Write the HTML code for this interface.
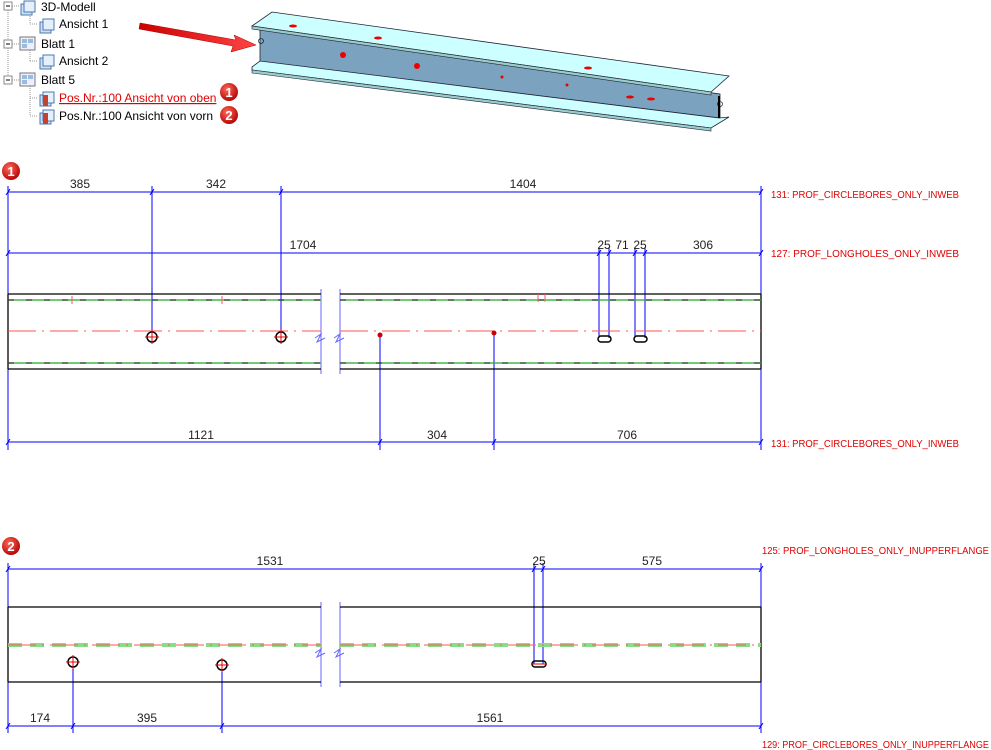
<!DOCTYPE html>
<html><head><meta charset="utf-8"><style>
html,body{margin:0;padding:0;background:#fff;width:991px;height:750px;overflow:hidden}
svg{display:block}
.t{font-family:"Liberation Sans",sans-serif;font-size:12px;fill:#000}
.d{font-family:"Liberation Sans",sans-serif;font-size:12px;fill:#222}
.r{font-family:"Liberation Sans",sans-serif;font-size:10px;fill:#e00000}
</style></head><body>
<svg width="991" height="750" viewBox="0 0 991 750" xmlns="http://www.w3.org/2000/svg">
<defs>
<g id="ic"><rect x="0" y="0" width="11" height="11" fill="#cfe0f4" stroke="#4a78b0"/><rect x="3" y="-3" width="11" height="11" fill="#e6f0fb" stroke="#4a78b0"/></g>
<g id="ic2"><rect x="0" y="0" width="11" height="11" fill="#cfe0f4" stroke="#4a78b0"/><rect x="3" y="-3" width="11" height="11" fill="#e6f0fb" stroke="#4a78b0"/><rect x="3" y="0" width="5" height="11" fill="#c84030"/></g>
<g id="sh"><rect x="0" y="0" width="15" height="13" fill="#eef" stroke="#777"/><rect x="2" y="2" width="5" height="4" fill="#9bd" /><rect x="8" y="2" width="5" height="4" fill="#9bd"/><rect x="2" y="7" width="5" height="4" fill="#9bd"/></g>
<g id="bx"><rect x="0" y="0" width="8" height="8" fill="#fff" stroke="#888"/><line x1="2" y1="4" x2="6" y2="4" stroke="#000"/></g>
<radialGradient id="rg" cx="0.4" cy="0.35" r="0.7"><stop offset="0" stop-color="#ff6a5a"/><stop offset="1" stop-color="#b00000"/></radialGradient>
<linearGradient id="ag" x1="0" y1="0" x2="1" y2="0"><stop offset="0" stop-color="#c00"/><stop offset="1" stop-color="#f44"/></linearGradient>
</defs>

<!-- tree -->
<g stroke="#999" stroke-dasharray="1,1">
<line x1="8" y1="10" x2="8" y2="80"/><line x1="30" y1="14" x2="30" y2="24"/><line x1="30" y1="24" x2="38" y2="24"/>
<line x1="12" y1="6" x2="20" y2="6"/><line x1="12" y1="44" x2="20" y2="44"/><line x1="12" y1="80" x2="20" y2="80"/>
<line x1="30" y1="50" x2="30" y2="61"/><line x1="30" y1="61" x2="38" y2="61"/>
<line x1="30" y1="86" x2="30" y2="116"/><line x1="30" y1="98" x2="38" y2="98"/><line x1="30" y1="116" x2="38" y2="116"/>
</g>
<use href="#bx" x="4" y="2"/><use href="#bx" x="4" y="40"/><use href="#bx" x="4" y="76"/>
<use href="#ic" x="21" y="4"/><text class="t" x="41" y="11">3D-Modell</text>
<use href="#ic" x="40" y="22"/><text class="t" x="59" y="28">Ansicht 1</text>
<use href="#sh" x="20" y="37"/><text class="t" x="41" y="48">Blatt 1</text>
<use href="#ic" x="40" y="58"/><text class="t" x="59" y="65">Ansicht 2</text>
<use href="#sh" x="20" y="73"/><text class="t" x="41" y="84">Blatt 5</text>
<use href="#ic2" x="40" y="95"/><text class="t" x="59" y="102" style="fill:#e00000;text-decoration:underline">Pos.Nr.:100 Ansicht von oben</text>
<use href="#ic2" x="40" y="113"/><text class="t" x="59" y="120">Pos.Nr.:100 Ansicht von vorn</text>
<circle cx="229" cy="92" r="9" fill="url(#rg)"/><text x="229" y="97" text-anchor="middle" style="font:bold 13px 'Liberation Sans',sans-serif;fill:#fff">1</text>
<circle cx="229" cy="115" r="9" fill="url(#rg)"/><text x="229" y="120" text-anchor="middle" style="font:bold 13px 'Liberation Sans',sans-serif;fill:#fff">2</text>
<!-- arrow -->
<polygon points="140,23 236,40 234,35 256,45 231,52 233,46 139,29" fill="url(#ag)" stroke="#a00" stroke-width="0.5"/>

<!-- 3D beam -->
<polygon points="260,29 720,94 720,118 260,62" fill="#7ba3bf" stroke="#223" stroke-width="0.8"/>
<polygon points="252,26 272,12 729,76 711,92" fill="#ccffff" stroke="#223" stroke-width="0.8"/>
<polygon points="252,26 711,92 711,95 252,29" fill="#9cc" stroke="#223" stroke-width="0.6"/>
<polygon points="252,67 260,61 719,118 729,117 711,128 252,70" fill="#ccffff" stroke="#223" stroke-width="0.8"/>
<polygon points="252,70 711,128 711,131 252,73" fill="#9cc" stroke="#223" stroke-width="0.6"/>
<line x1="719" y1="96" x2="719" y2="118" stroke="#000" stroke-width="2"/>
<g fill="#e00"><circle cx="343" cy="55" r="3"/><circle cx="417" cy="66" r="3"/><ellipse cx="293" cy="26" rx="4" ry="1.5"/><ellipse cx="378" cy="38" rx="4" ry="1.5"/><ellipse cx="588" cy="68" rx="4" ry="1.5"/><ellipse cx="630" cy="97" rx="4" ry="1.5"/><ellipse cx="651" cy="99" rx="4" ry="1.5"/><circle cx="502" cy="77" r="1.5"/><circle cx="567" cy="85" r="1.5"/></g>
<circle cx="261" cy="41" r="2.5" fill="none" stroke="#000" stroke-width="0.6"/>
<circle cx="720" cy="104" r="2.5" fill="none" stroke="#000" stroke-width="0.6"/>

<!-- Drawing 1 -->
<circle cx="11" cy="171" r="9" fill="url(#rg)"/><text x="11" y="176" text-anchor="middle" style="font:bold 13px 'Liberation Sans',sans-serif;fill:#fff">1</text>
<g stroke="#00f" stroke-width="1" fill="none">
<line x1="8" y1="186" x2="8" y2="450"/><line x1="761" y1="186" x2="761" y2="450"/>
<line x1="152" y1="186" x2="152" y2="333"/><line x1="281" y1="186" x2="281" y2="333"/>
<line x1="8" y1="192" x2="761" y2="192"/><line x1="8" y1="253" x2="761" y2="253"/>
<line x1="599" y1="247" x2="599" y2="338"/><line x1="609" y1="247" x2="609" y2="338"/>
<line x1="635" y1="247" x2="635" y2="338"/><line x1="645" y1="247" x2="645" y2="338"/>
<line x1="380" y1="335" x2="380" y2="450"/><line x1="494" y1="333" x2="494" y2="450"/>
<line x1="8" y1="442" x2="761" y2="442"/>
<path d="M6,195l4,-6M150,195l4,-6M279,195l4,-6M759,195l4,-6M6,256l4,-6M597,256l4,-6M607,256l4,-6M633,256l4,-6M643,256l4,-6M759,256l4,-6M6,445l4,-6M378,445l4,-6M492,445l4,-6M759,445l4,-6"/>
<line x1="321" y1="289" x2="321" y2="374" stroke="#66f"/><line x1="340" y1="289" x2="340" y2="374" stroke="#66f"/>
<path d="M315,338l6,-4l-4,8l8,-4M334,338l6,-4l-4,8l8,-4" stroke="#66f"/>
</g>
<g stroke="#000" stroke-width="1.3">
<line x1="8" y1="294" x2="321" y2="294"/><line x1="340" y1="294" x2="761" y2="294"/>
<line x1="8" y1="369" x2="321" y2="369"/><line x1="340" y1="369" x2="761" y2="369"/>
<line x1="8" y1="294" x2="8" y2="369"/><line x1="761" y1="294" x2="761" y2="369"/>
</g>
<g stroke-width="1.2">
<line x1="8" y1="300" x2="321" y2="300" stroke="#2a2"/><line x1="340" y1="300" x2="761" y2="300" stroke="#2a2"/>
<line x1="8" y1="300" x2="321" y2="300" stroke="#333" stroke-dasharray="6,12"/><line x1="340" y1="300" x2="761" y2="300" stroke="#333" stroke-dasharray="6,12"/>
<line x1="8" y1="363" x2="321" y2="363" stroke="#2a2"/><line x1="340" y1="363" x2="761" y2="363" stroke="#2a2"/>
<line x1="8" y1="363" x2="321" y2="363" stroke="#333" stroke-dasharray="6,12"/><line x1="340" y1="363" x2="761" y2="363" stroke="#333" stroke-dasharray="6,12"/>
</g>
<g stroke="#f55" stroke-width="1"><line x1="8" y1="331" x2="321" y2="331" stroke-dasharray="28,6,2,6"/><line x1="340" y1="331" x2="761" y2="331" stroke-dasharray="28,6,2,6"/>
<path d="M72,296v8M222,296v8M538,294v8M545,294v8"/></g>
<g fill="none" stroke="#000" stroke-width="1.5"><circle cx="152" cy="337" r="5"/><circle cx="281" cy="337" r="5"/>
<rect x="598" y="336" width="13" height="6" rx="3"/><rect x="634" y="336" width="13" height="6" rx="3"/></g>
<g stroke="#e00"><path d="M145,337h14M152,330v14M274,337h14M281,330v14"/></g>
<circle cx="380" cy="335" r="2.5" fill="#c00"/><circle cx="494" cy="333" r="2.5" fill="#c00"/>
<g class="d" text-anchor="middle">
<text class="d" x="80" y="188">385</text><text class="d" x="216" y="188">342</text><text class="d" x="523" y="188">1404</text>
<text class="d" x="303" y="249">1704</text><text class="d" x="604" y="249">25</text><text class="d" x="622" y="249">71</text><text class="d" x="640" y="249">25</text><text class="d" x="703" y="249">306</text>
<text class="d" x="201" y="439">1121</text><text class="d" x="437" y="439">304</text><text class="d" x="627" y="439">706</text>
</g>
<text class="r" x="771" y="198" textLength="188" lengthAdjust="spacingAndGlyphs">131: PROF_CIRCLEBORES_ONLY_INWEB</text>
<text class="r" x="771" y="257" textLength="188" lengthAdjust="spacingAndGlyphs">127: PROF_LONGHOLES_ONLY_INWEB</text>
<text class="r" x="771" y="447" textLength="188" lengthAdjust="spacingAndGlyphs">131: PROF_CIRCLEBORES_ONLY_INWEB</text>

<!-- Drawing 2 -->
<circle cx="11" cy="546" r="9" fill="url(#rg)"/><text x="11" y="551" text-anchor="middle" style="font:bold 13px 'Liberation Sans',sans-serif;fill:#fff">2</text>
<g stroke="#00f" stroke-width="1" fill="none">
<line x1="8" y1="563" x2="8" y2="733"/><line x1="761" y1="563" x2="761" y2="733"/>
<line x1="8" y1="569" x2="761" y2="569"/><line x1="534" y1="563" x2="534" y2="664"/><line x1="543" y1="563" x2="543" y2="664"/>
<line x1="73" y1="662" x2="73" y2="733"/><line x1="222" y1="665" x2="222" y2="733"/>
<line x1="8" y1="726" x2="761" y2="726"/>
<path d="M6,572l4,-6M532,572l4,-6M541,572l4,-6M759,572l4,-6M6,729l4,-6M71,729l4,-6M220,729l4,-6M759,729l4,-6"/>
<line x1="321" y1="602" x2="321" y2="687" stroke="#66f"/><line x1="340" y1="602" x2="340" y2="687" stroke="#66f"/>
<path d="M315,653l6,-4l-4,8l8,-4M334,653l6,-4l-4,8l8,-4" stroke="#66f"/>
</g>
<g stroke="#000" stroke-width="1.3">
<line x1="8" y1="607" x2="321" y2="607"/><line x1="340" y1="607" x2="761" y2="607"/>
<line x1="8" y1="682" x2="321" y2="682"/><line x1="340" y1="682" x2="761" y2="682"/>
<line x1="8" y1="607" x2="8" y2="682"/><line x1="761" y1="607" x2="761" y2="682"/>
</g>
<g><line x1="8" y1="645" x2="321" y2="645" stroke="#8d8" stroke-width="4" stroke-dasharray="14,8"/><line x1="340" y1="645" x2="761" y2="645" stroke="#8d8" stroke-width="4" stroke-dasharray="14,8"/>
<line x1="8" y1="645" x2="321" y2="645" stroke="#f55" stroke-dasharray="28,6,2,6"/><line x1="340" y1="645" x2="761" y2="645" stroke="#f55" stroke-dasharray="28,6,2,6"/></g>
<g fill="none" stroke="#000" stroke-width="1.5"><circle cx="73" cy="662" r="5"/><circle cx="222" cy="665" r="5"/><rect x="532" y="661" width="14" height="6" rx="3"/></g>
<g stroke="#e00"><path d="M66,662h14M73,655v14M215,665h14M222,658v14M531,664h16"/></g>
<g text-anchor="middle">
<text class="d" x="270" y="565">1531</text><text class="d" x="539" y="565">25</text><text class="d" x="652" y="565">575</text>
<text class="d" x="40" y="722">174</text><text class="d" x="147" y="722">395</text><text class="d" x="490" y="722">1561</text>
</g>
<text class="r" x="762" y="554" textLength="227" lengthAdjust="spacingAndGlyphs">125: PROF_LONGHOLES_ONLY_INUPPERFLANGE</text>
<text class="r" x="762" y="748" textLength="227" lengthAdjust="spacingAndGlyphs">129: PROF_CIRCLEBORES_ONLY_INUPPERFLANGE</text>
</svg>
</body></html>
